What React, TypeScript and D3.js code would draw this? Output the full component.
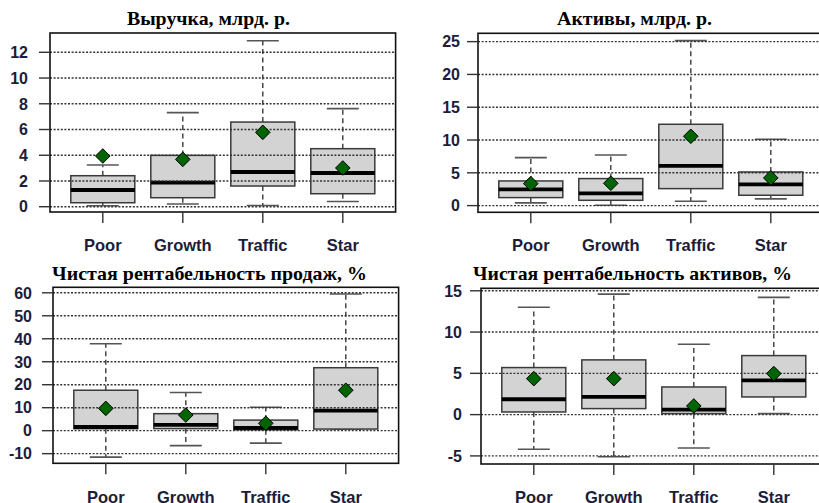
import React from "react";
import * as d3 from "d3";

const categories = ["Poor", "Growth", "Traffic", "Star"];

// [lower whisker, Q1, median, Q3, upper whisker]
const revenueBoxes = [
  [0.08, 0.31, 1.3, 2.41, 3.24],
  [0.21, 0.7, 1.87, 3.99, 7.31],
  [0.1, 1.61, 2.7, 6.58, 12.9],
  [0.41, 1.01, 2.62, 4.51, 7.62],
];
const revenueMeans = [3.94, 3.68, 5.78, 3.01];
const revenueTicks = [0, 2, 4, 6, 8, 10, 12];

const assetsBoxes = [
  [0.41, 1.22, 2.49, 3.76, 7.32],
  [0.05, 0.81, 1.88, 4.12, 7.72],
  [0.66, 2.59, 6.05, 12.4, 25.15],
  [1.02, 1.58, 3.25, 5.13, 10.11],
];
const assetsMeans = [3.35, 3.4, 10.57, 4.22];
const assetsTicks = [0, 5, 10, 15, 20, 25];

const rosBoxes = [
  [-11.5, 0.87, 1.6, 17.6, 37.8],
  [-6.5, 0.9, 2.5, 7.4, 16.6],
  [-5.4, 0.4, 1.2, 4.6, 10.2],
  [0.7, 0.7, 8.7, 27.4, 59.5],
];
const rosMeans = [9.7, 6.8, 3.2, 17.6];
const rosTicks = [-10, 0, 10, 20, 30, 40, 50, 60];

const roaBoxes = [
  [-4.2, 0.32, 1.86, 5.7, 13.0],
  [-5.1, 0.73, 2.14, 6.63, 14.6],
  [-4.04, 0.12, 0.6, 3.35, 8.53],
  [0.12, 2.14, 4.16, 7.15, 14.2],
];
const roaMeans = [4.36, 4.36, 1.05, 4.97];
const roaTicks = [-5, 0, 5, 10, 15];

const tickColor = "#1b1d3a";
const sansFont = "'Liberation Sans', Arial, sans-serif";
const serifFont = "'Liberation Serif', 'Times New Roman', serif";

type PanelProps = {
  title: string;
  titleX: number;
  titleY: number;
  titleW: number;
  left: number;
  top: number;
  bottom: number;
  yDomain: [number, number];
  ticks: number[];
  boxes: number[][];
  means: number[];
  labelY: number;
  tickLabelRight: number;
};

function Panel(p: PanelProps) {
  const unit = 80;
  const x = d3
    .scaleLinear()
    .domain([0.34, 4.66])
    .range([p.left, p.left + 4.32 * unit]);
  const y = d3.scaleLinear().domain(p.yDomain).range([p.bottom, p.top]);
  const right = x(4.66);
  const boxW = x(1.4) - x(1);
  const stapleW = x(1.2) - x(1);
  const gridDash = "2,1.6";
  return (
    <g>
      <text
        x={p.titleX}
        y={p.titleY}
        textAnchor="middle"
        fontFamily={serifFont}
        fontWeight="bold"
        fontSize={19}
        textLength={p.titleW}
        lengthAdjust="spacingAndGlyphs"
        fill="#000"
      >
        {p.title}
      </text>
      {/* boxes */}
      {p.boxes.map((b, i) => {
        const cx = x(i + 1);
        const [lo, q1, med, q3, hi] = b;
        return (
          <g key={"b" + i}>
            <line x1={cx} x2={cx} y1={y(q3)} y2={y(hi)} stroke="#3a3a3a" strokeWidth={1.4} strokeDasharray="5,3.5" />
            <line x1={cx} x2={cx} y1={y(q1)} y2={y(lo)} stroke="#3a3a3a" strokeWidth={1.4} strokeDasharray="5,3.5" />
            <line x1={cx - stapleW} x2={cx + stapleW} y1={y(hi)} y2={y(hi)} stroke="#555" strokeWidth={1.6} />
            <line x1={cx - stapleW} x2={cx + stapleW} y1={y(lo)} y2={y(lo)} stroke="#555" strokeWidth={1.6} />
            <rect
              x={cx - boxW}
              y={y(q3)}
              width={boxW * 2}
              height={y(q1) - y(q3)}
              fill="#d3d3d3"
              stroke="#3a3a3a"
              strokeWidth={1.5}
            />
            <line x1={cx - boxW} x2={cx + boxW} y1={y(med)} y2={y(med)} stroke="#000" strokeWidth={3.8} />
          </g>
        );
      })}
      {/* grid */}
      {p.ticks.map((t) => (
        <line
          key={"g" + t}
          x1={p.left}
          x2={right}
          y1={y(t)}
          y2={y(t)}
          stroke="#333"
          strokeWidth={1.4}
          strokeDasharray={gridDash}
        />
      ))}
      {/* means */}
      {p.means.map((m, i) => {
        const cx = x(i + 1);
        const cy = y(m);
        const r = 7.3;
        return (
          <path
            key={"m" + i}
            d={`M${cx},${cy - r}L${cx + r},${cy}L${cx},${cy + r}L${cx - r},${cy}Z`}
            fill="#006400"
            stroke="#000"
            strokeWidth={1}
          />
        );
      })}
      {/* frame */}
      <rect x={p.left} y={p.top} width={right - p.left} height={p.bottom - p.top} fill="none" stroke="#111" strokeWidth={1.6} />
      {/* y axis */}
      {p.ticks.map((t) => (
        <g key={"yt" + t}>
          <line x1={p.left - 11} x2={p.left} y1={y(t)} y2={y(t)} stroke="#333" strokeWidth={1.4} />
          <text
            x={p.tickLabelRight}
            y={y(t)}
            dy="0.36em"
            textAnchor="end"
            fontFamily={sansFont}
            fontWeight="bold"
            fontSize={16}
            fill={tickColor}
          >
            {t}
          </text>
        </g>
      ))}
      {/* x axis */}
      {categories.map((c, i) => (
        <g key={"xt" + c}>
          <line x1={x(i + 1)} x2={x(i + 1)} y1={p.bottom} y2={p.bottom + 11} stroke="#333" strokeWidth={1.4} />
          <text
            x={x(i + 1)}
            y={p.labelY}
            textAnchor="middle"
            fontFamily={sansFont}
            fontWeight="bold"
            fontSize={16.5}
            fill={tickColor}
          >
            {c}
          </text>
        </g>
      ))}
    </g>
  );
}

export default function App() {
  return (
    <svg
      width={819}
      height={503}
      style={{ position: "absolute", left: 0, top: 0, background: "#fff" }}
    >
      <Panel
        title="Выручка, млрд. р."
        titleX={208.4}
        titleY={25}
        titleW={163}
        left={50}
        top={33}
        bottom={212}
        yDomain={[-0.41, 13.5]}
        ticks={revenueTicks}
        boxes={revenueBoxes}
        means={revenueMeans}
        labelY={251}
        tickLabelRight={28}
      />
      <Panel
        title="Активы, млрд. р."
        titleX={634.5}
        titleY={25}
        titleW={155}
        left={478}
        top={33.3}
        bottom={212.3}
        yDomain={[-1.02, 26.27]}
        ticks={assetsTicks}
        boxes={assetsBoxes}
        means={assetsMeans}
        labelY={251}
        tickLabelRight={460}
      />
      <Panel
        title="Чистая рентабельность продаж, %"
        titleX={209.5}
        titleY={280}
        titleW={315}
        left={53}
        top={287.3}
        bottom={463.3}
        yDomain={[-14.2, 62.4]}
        ticks={rosTicks}
        boxes={rosBoxes}
        means={rosMeans}
        labelY={503}
        tickLabelRight={32}
      />
      <Panel
        title="Чистая рентабельность активов, %"
        titleX={632.5}
        titleY={280}
        titleW={319}
        left={481}
        top={288.3}
        bottom={464}
        yDomain={[-5.98, 15.3]}
        ticks={roaTicks}
        boxes={roaBoxes}
        means={roaMeans}
        labelY={503}
        tickLabelRight={462}
      />
    </svg>
  );
}
